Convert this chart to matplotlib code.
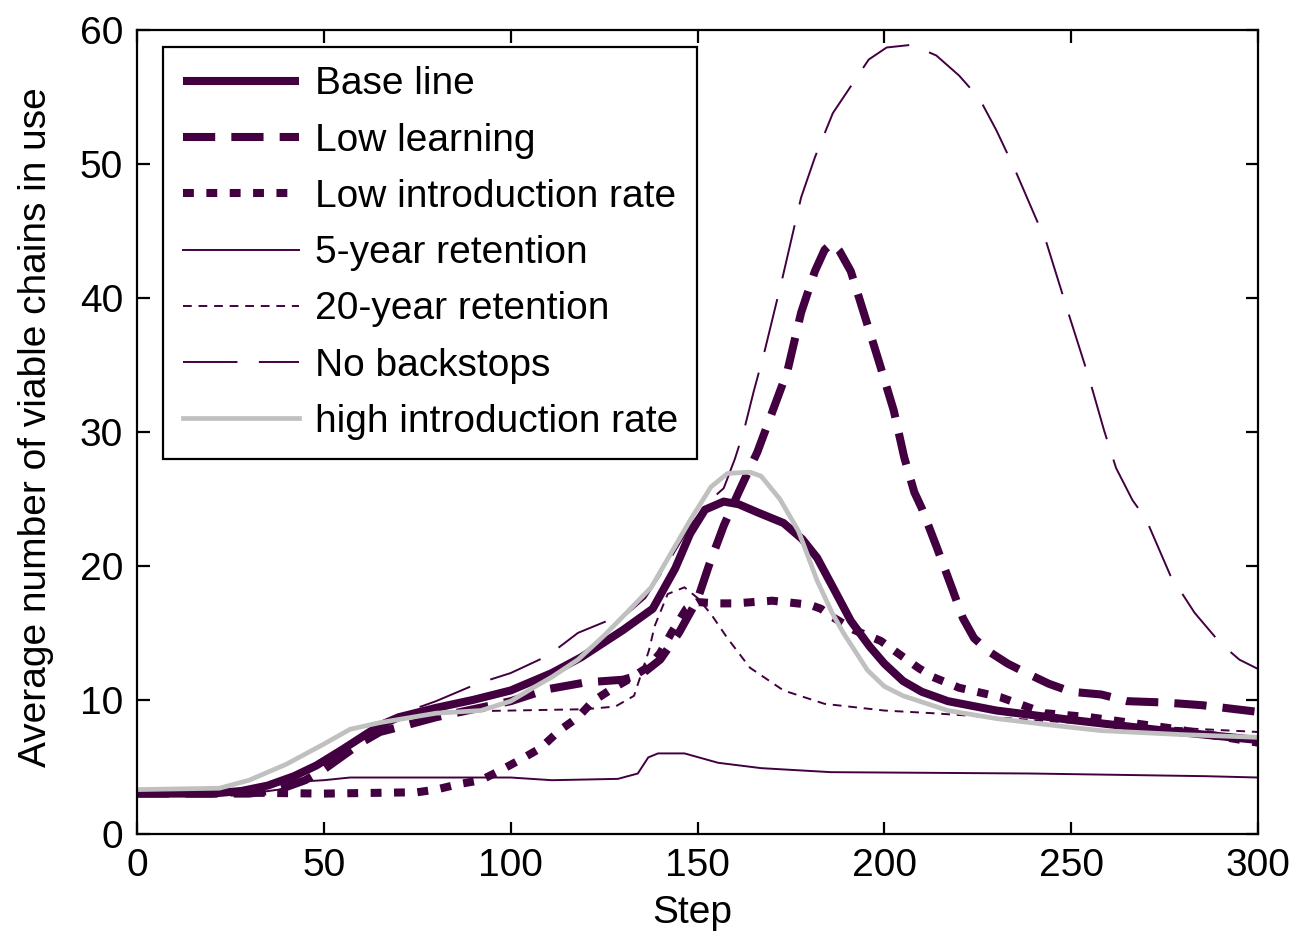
import matplotlib
matplotlib.use("Agg")
import matplotlib.pyplot as plt

plt.rcParams['font.family'] = ['Liberation Sans', 'DejaVu Sans']

purple = '#420040'
grey = '#C0C0C0'

# values (step, average number of chains)
base_x = [0, 20, 28, 35, 42, 48, 55, 60, 65, 70, 80, 90, 100, 111, 119, 130, 138, 144, 148, 152,
          157, 161, 166, 173, 178, 182, 187, 191, 196, 200, 205, 210, 217, 230, 250, 275, 300]
base_y = [3.0, 3.0, 3.2, 3.6, 4.3, 5.1, 6.3, 7.2, 8.1, 8.7, 9.4, 10.0, 10.7, 12.0, 13.2, 15.2, 16.8, 19.8, 22.4, 24.2,
          24.8, 24.6, 24.0, 23.2, 22.0, 20.6, 18.0, 15.9, 14.0, 12.7, 11.4, 10.6, 9.9, 9.2, 8.5, 7.7, 7.0]

lowlearn_x = [0, 30, 38, 45, 50, 55, 60, 65, 72, 80, 90, 100, 110, 120, 130, 135, 140, 145, 150, 153,
              157, 161, 166, 170, 174, 177.7, 181.4, 184, 186, 188, 191, 194.8, 198.7, 202.5, 205.3, 208, 210,
              214, 218, 221, 224, 228, 233, 238, 244, 250, 258, 265, 275, 285, 300]
lowlearn_y = [3.0, 3.0, 3.3, 4.0, 4.8, 5.8, 6.8, 7.6, 8.1, 8.7, 9.3, 9.9, 10.8, 11.3, 11.5, 11.9, 13.0, 15.0, 17.5, 20.0,
              23.0, 25.5, 28.5, 31.5, 34.5, 38.9, 42.0, 43.6, 44.1, 43.5, 42.0, 38.6, 35.1, 31.6, 28.1, 25.5, 24.3,
              21.4, 18.4, 16.1, 14.6, 13.6, 12.7, 12.0, 11.2, 10.6, 10.4, 9.9, 9.8, 9.6, 9.1]

lowintro_x = [0, 20, 50, 75, 80, 86, 92, 97, 103, 108, 113, 118, 122, 127, 132, 137, 140, 143, 147, 150,
              155, 160, 170, 180, 183, 186, 192, 199, 204, 209, 213, 220, 231, 243, 255, 276, 300]
lowintro_y = [3.1, 3.1, 3.0, 3.1, 3.3, 3.7, 4.0, 4.7, 5.6, 6.4, 7.7, 8.7, 9.9, 10.8, 11.6, 12.5, 13.5, 15.0, 16.8, 17.3,
              17.2, 17.2, 17.4, 17.1, 16.8, 16.2, 15.2, 14.4, 13.4, 12.4, 11.7, 10.9, 10.2, 9.0, 8.7, 7.9, 6.8]

ret5_x = [0, 30, 38, 44, 50, 57, 100, 111, 128.7, 134, 136.8, 139.4, 146.5, 155.5, 167, 185.7, 239, 286, 300]
ret5_y = [3.0, 3.0, 3.3, 3.9, 4.0, 4.2, 4.2, 4.0, 4.1, 4.5, 5.7, 6.0, 6.0, 5.3, 4.9, 4.6, 4.5, 4.3, 4.2]

ret20_x = [0, 25, 35, 45, 50, 60, 70, 80, 100, 120, 128, 133, 137, 138.5, 142, 146.5, 150, 153.6, 158, 164,
           173, 184, 200, 213, 250, 300]
ret20_y = [3.0, 3.1, 3.6, 4.5, 5.2, 7.2, 8.6, 9.1, 9.2, 9.3, 9.5, 10.3, 13.7, 15.5, 17.9, 18.4, 17.6, 16.4, 14.6, 12.4,
           10.7, 9.7, 9.2, 9.0, 8.3, 7.6]

nobs_x = [0, 25, 35, 45, 50, 60, 70, 80, 91, 100, 110, 118, 125, 131, 136, 142, 148, 153, 157, 160,
          162.4, 165, 168, 172.8, 177.7, 181.4, 186.2, 191, 195.8, 200.6, 207.3, 213.9, 220, 225.4, 230, 234.9,
          243.4, 249.2, 254.9, 258.8, 262, 266.4, 270, 276.5, 283, 290, 295, 300]
nobs_y = [3.0, 3.1, 3.6, 4.6, 5.4, 7.4, 8.9, 9.9, 11.2, 12.0, 13.3, 15.0, 15.8, 16.4, 17.6, 20.2, 23.0, 24.8, 25.8, 28.0,
          30.1, 33.0, 36.1, 41.6, 47.5, 50.5, 53.8, 55.8, 57.8, 58.7, 58.9, 58.1, 56.6, 54.9, 52.5, 49.6,
          44.1, 38.9, 33.9, 30.1, 27.3, 24.9, 23.5, 19.3, 16.5, 14.2, 13.0, 12.3]

highintro_x = [0, 22, 30, 40, 50, 57, 65, 80, 92, 100, 106, 111, 118, 125, 131, 137.6, 143, 148, 153.6, 158,
               164, 167, 172, 177, 182, 186, 189, 195.5, 200, 205, 217, 230, 245, 258, 280, 300]
highintro_y = [3.3, 3.4, 4.0, 5.2, 6.7, 7.8, 8.3, 9.0, 9.2, 9.9, 10.9, 11.7, 13.0, 14.8, 16.5, 18.4, 21.0, 23.4, 25.9, 26.9,
               27.0, 26.7, 25.0, 22.6, 18.9, 16.5, 15.0, 12.2, 11.0, 10.3, 9.2, 8.6, 8.1, 7.7, 7.4, 7.2]

labels = ['Base line', 'Low learning', 'Low introduction rate', '5-year retention',
          '20-year retention', 'No backstops', 'high introduction rate']

fs = 28

fig = plt.figure(figsize=(12.93, 9.40), dpi=100)
ax = fig.add_axes([0.106, 0.113, 0.867, 0.855])

ax.plot(base_x, base_y, color=purple, lw=5.8, solid_capstyle='butt', label=labels[0])
ax.plot(lowlearn_x, lowlearn_y, color=purple, lw=5.8, dashes=(4.0, 2.0), dash_capstyle='butt', label=labels[1])
ax.plot(lowintro_x, lowintro_y, color=purple, lw=5.8, dashes=(1.35, 1.55), dash_capstyle='butt', label=labels[2])
ax.plot(ret5_x, ret5_y, color=purple, lw=1.4, label=labels[3])
ax.plot(ret20_x, ret20_y, color=purple, lw=1.4, dashes=(4.5, 3.5), label=labels[4])
ax.plot(nobs_x, nobs_y, color=purple, lw=1.4, dashes=(28, 11), label=labels[5])
ax.plot(highintro_x, highintro_y, color=grey, lw=3.4, label=labels[6])

ax.set_xlim(0, 300)
ax.set_ylim(0, 60)
ax.set_xticks(range(0, 301, 50))
ax.set_yticks(range(0, 61, 10))
ax.tick_params(direction='in', top=True, right=True, length=9, width=1.6, labelsize=fs, pad=10)
for sp in ax.spines.values():
    sp.set_linewidth(1.6)

ax.set_xlabel('Step', fontsize=fs)
ax.set_ylabel('Average number of viable chains in use', fontsize=fs)
ax.xaxis.set_label_coords(0.495, -0.076)
ax.yaxis.set_label_coords(-0.074, 0.506)

leg = ax.legend(loc='upper left', bbox_to_anchor=(0.0232, 0.9789), borderaxespad=0,
                fontsize=fs, handlelength=3.0, handletextpad=0.4, labelspacing=0.52,
                borderpad=0.5, fancybox=False, framealpha=1, edgecolor='black')
leg.get_frame().set_linewidth(1.6)

fig.savefig('out.png', dpi=100)
